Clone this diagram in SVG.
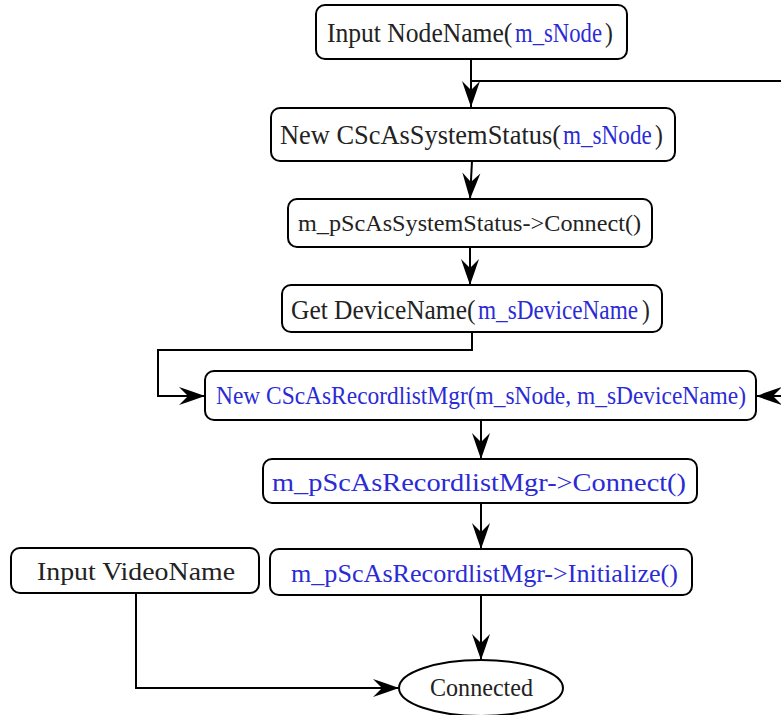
<svg xmlns="http://www.w3.org/2000/svg" width="781" height="715" viewBox="0 0 781 715">
<style>
.box{fill:#fff;stroke:#000;stroke-width:2}
.t{font-family:"Liberation Serif","DejaVu Serif",serif;fill:#222}
.b{fill:#2b2bd6}
.c{fill:none;stroke:#000;stroke-width:2}
</style>
<defs>
<marker id="ah" markerUnits="userSpaceOnUse" markerWidth="28" markerHeight="20" refX="26" refY="9" orient="auto" overflow="visible">
<path d="M26,9 Q12,4 0,0 L9,9 L0,18 Q12,14 26,9 Z" fill="#000"/>
</marker>
</defs>
<rect width="781" height="715" fill="#fff"/>
<g id="connectors">
<path class="c" d="M471,59 V107" marker-end="url(#ah)"/>
<path class="c" d="M781,81 H471"/>
<path class="c" d="M472,161 L470,199" marker-end="url(#ah)"/>
<path class="c" d="M470,247 V285" marker-end="url(#ah)"/>
<path class="c" d="M472,332 V350 H158 V396 H205" marker-end="url(#ah)"/>
<path class="c" d="M790,396 H756" marker-end="url(#ah)"/>
<path class="c" d="M481,420 V459" marker-end="url(#ah)"/>
<path class="c" d="M481,503 V549" marker-end="url(#ah)"/>
<path class="c" d="M481,595 V660" marker-end="url(#ah)"/>
<path class="c" d="M136,593 V688 H399" marker-end="url(#ah)"/>
</g>
<g id="n1">
<rect class="box" x="316" y="5" width="311" height="54" rx="9"/>
<text class="t" transform="translate(327,42) scale(0.87,1)" font-size="27" textLength="213" lengthAdjust="spacingAndGlyphs">Input NodeName(</text>
<text class="t b" transform="translate(515,42) scale(0.87,1)" font-size="27" textLength="100" lengthAdjust="spacingAndGlyphs">m_sNode</text>
<text class="t" transform="translate(605,42) scale(0.87,1)" font-size="27">)</text>
</g>
<g id="n2">
<rect class="box" x="271" y="108" width="404" height="53" rx="9"/>
<text class="t" transform="translate(280,144) scale(0.87,1)" font-size="27" textLength="323" lengthAdjust="spacingAndGlyphs">New CScAsSystemStatus(</text>
<text class="t b" transform="translate(563,144) scale(0.87,1)" font-size="27" textLength="102" lengthAdjust="spacingAndGlyphs">m_sNode</text>
<text class="t" transform="translate(655,144) scale(0.87,1)" font-size="27">)</text>
</g>
<g id="n3">
<rect class="box" x="288" y="199" width="364" height="48" rx="9"/>
<text class="t" x="298" y="231" font-size="23" textLength="343" lengthAdjust="spacingAndGlyphs">m_pScAsSystemStatus-&gt;Connect()</text>
</g>
<g id="n4">
<rect class="box" x="282" y="285" width="380" height="47" rx="9"/>
<text class="t" transform="translate(291,319) scale(0.87,1)" font-size="27" textLength="212" lengthAdjust="spacingAndGlyphs">Get DeviceName(</text>
<text class="t b" transform="translate(478,319) scale(0.87,1)" font-size="27" textLength="184" lengthAdjust="spacingAndGlyphs">m_sDeviceName</text>
<text class="t" transform="translate(642,319) scale(0.87,1)" font-size="27">)</text>
</g>
<g id="n5">
<rect class="box" x="205" y="371" width="551" height="49" rx="9"/>
<text class="t b" x="216" y="404" font-size="25" textLength="530" lengthAdjust="spacingAndGlyphs">New CScAsRecordlistMgr(m_sNode, m_sDeviceName)</text>
</g>
<g id="n6">
<rect class="box" x="263" y="459" width="434" height="44" rx="9"/>
<text class="t b" x="272" y="491" font-size="26" textLength="414" lengthAdjust="spacingAndGlyphs">m_pScAsRecordlistMgr-&gt;Connect()</text>
</g>
<g id="n7">
<rect class="box" x="270" y="549" width="422" height="46" rx="9"/>
<text class="t b" x="291" y="582" font-size="25" textLength="387" lengthAdjust="spacingAndGlyphs">m_pScAsRecordlistMgr-&gt;Initialize()</text>
</g>
<g id="n8">
<rect class="box" x="11" y="548" width="248" height="45" rx="9"/>
<text class="t" x="37" y="580" font-size="26" textLength="198" lengthAdjust="spacingAndGlyphs">Input VideoName</text>
</g>
<g id="n9">
<ellipse class="box" cx="481" cy="688" rx="82" ry="28"/>
<text class="t" x="430" y="696" font-size="25" textLength="103" lengthAdjust="spacingAndGlyphs">Connected</text>
</g>
</svg>
